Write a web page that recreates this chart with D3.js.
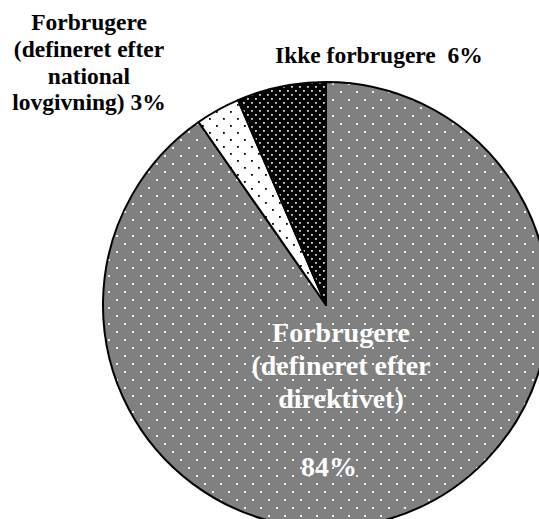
<!DOCTYPE html>
<html>
<head>
<meta charset="utf-8">
<script src="https://cdn.jsdelivr.net/npm/d3@7"></script>
<style>
  body { margin: 0; background: #ffffff; }
</style>
</head>
<body>
<div id="pie"></div>
<script>
// Chart data
const categories = ["Forbrugere (defineret efter direktivet)", "Forbrugere (defineret efter national lovgivning)", "Ikke forbrugere"];
const shares = [84, 3, 6];
const patterns = ["dotsGray", "dotsWhite", "dotsBlack"];

// Label texts
const insideLines = ["Forbrugere", "(defineret efter", "direktivet)"];
const insidePct = "84%";
const leftLines = ["Forbrugere", "(defineret efter", "national", "lovgivning) 3%"];
const topLabel = "Ikke forbrugere  6%";

function createPie() {
  const width = 539;
  const height = 519;
  const cx = 326;
  const cy = 305;
  const radius = 223;
  const font = "'Liberation Serif', 'Times New Roman', serif";

  const svg = d3.select("#pie")
    .append("svg")
    .attr("width", width)
    .attr("height", height)
    .style("background", "#ffffff");

  // Fill patterns
  const defs = svg.append("defs");

  const gray = defs.append("pattern")
    .attr("id", "dotsGray")
    .attr("patternUnits", "userSpaceOnUse")
    .attr("x", 6).attr("y", 2)
    .attr("width", 16).attr("height", 16);
  gray.append("rect").attr("width", 16).attr("height", 16).attr("fill", "#808080");
  gray.append("rect").attr("x", 0).attr("y", 0).attr("width", 2).attr("height", 2).attr("fill", "#f0f0f0");
  gray.append("rect").attr("x", 8).attr("y", 8).attr("width", 2).attr("height", 2).attr("fill", "#f0f0f0");

  const white = defs.append("pattern")
    .attr("id", "dotsWhite")
    .attr("patternUnits", "userSpaceOnUse")
    .attr("width", 14).attr("height", 14);
  white.append("rect").attr("width", 14).attr("height", 14).attr("fill", "#ffffff");
  white.append("rect").attr("x", 2).attr("y", 2).attr("width", 1.8).attr("height", 1.8).attr("fill", "#000000");
  white.append("rect").attr("x", 9).attr("y", 9).attr("width", 1.8).attr("height", 1.8).attr("fill", "#000000");

  const black = defs.append("pattern")
    .attr("id", "dotsBlack")
    .attr("patternUnits", "userSpaceOnUse")
    .attr("width", 8).attr("height", 8);
  black.append("rect").attr("width", 8).attr("height", 8).attr("fill", "#000000");
  black.append("rect").attr("x", 1).attr("y", 1).attr("width", 1.8).attr("height", 1.8).attr("fill", "#d8d8d8");
  black.append("rect").attr("x", 5).attr("y", 5).attr("width", 1.8).attr("height", 1.8).attr("fill", "#d8d8d8");

  // Pie layout, clockwise from 12 o'clock
  const pie = d3.pie().sort(null).value(d => d);
  const arc = d3.arc().innerRadius(0).outerRadius(radius);

  const g = svg.append("g")
    .attr("transform", `translate(${cx}, ${cy})`);

  g.selectAll("path")
    .data(pie(shares))
    .join("path")
    .attr("d", arc)
    .attr("fill", (d, i) => `url(#${patterns[i]})`)
    .attr("stroke", "#000000")
    .attr("stroke-width", 2)
    .attr("stroke-linejoin", "round");

  // Label inside the big slice
  const inside = svg.append("text")
    .attr("text-anchor", "middle")
    .style("font-family", font)
    .style("font-size", "28px")
    .style("font-weight", "bold")
    .attr("fill", "#ffffff")
    .attr("stroke", "#707070")
    .attr("stroke-width", 0.4)
    .style("paint-order", "stroke");
  insideLines.forEach((t, i) => {
    inside.append("tspan")
      .attr("x", 341)
      .attr("y", 342 + i * 33)
      .text(t);
  });
  svg.append("text")
    .attr("x", 329)
    .attr("y", 476)
    .attr("text-anchor", "middle")
    .style("font-family", font)
    .style("font-size", "28px")
    .style("font-weight", "bold")
    .attr("fill", "#ffffff")
    .attr("stroke", "#707070")
    .attr("stroke-width", 0.4)
    .style("paint-order", "stroke")
    .text(insidePct);

  // Label top left
  const left = svg.append("text")
    .attr("text-anchor", "middle")
    .style("font-family", font)
    .style("font-size", "23.5px")
    .style("font-weight", "bold")
    .attr("fill", "#000000");
  leftLines.forEach((t, i) => {
    left.append("tspan")
      .attr("x", 89)
      .attr("y", 30 + i * 26.8)
      .text(t);
  });

  // Label top right
  svg.append("text")
    .attr("x", 275)
    .attr("y", 63)
    .style("font-family", font)
    .style("font-size", "23.5px")
    .style("font-weight", "bold")
    .style("white-space", "pre")
    .attr("fill", "#000000")
    .text(topLabel);
}

createPie();
</script>
</body>
</html>
